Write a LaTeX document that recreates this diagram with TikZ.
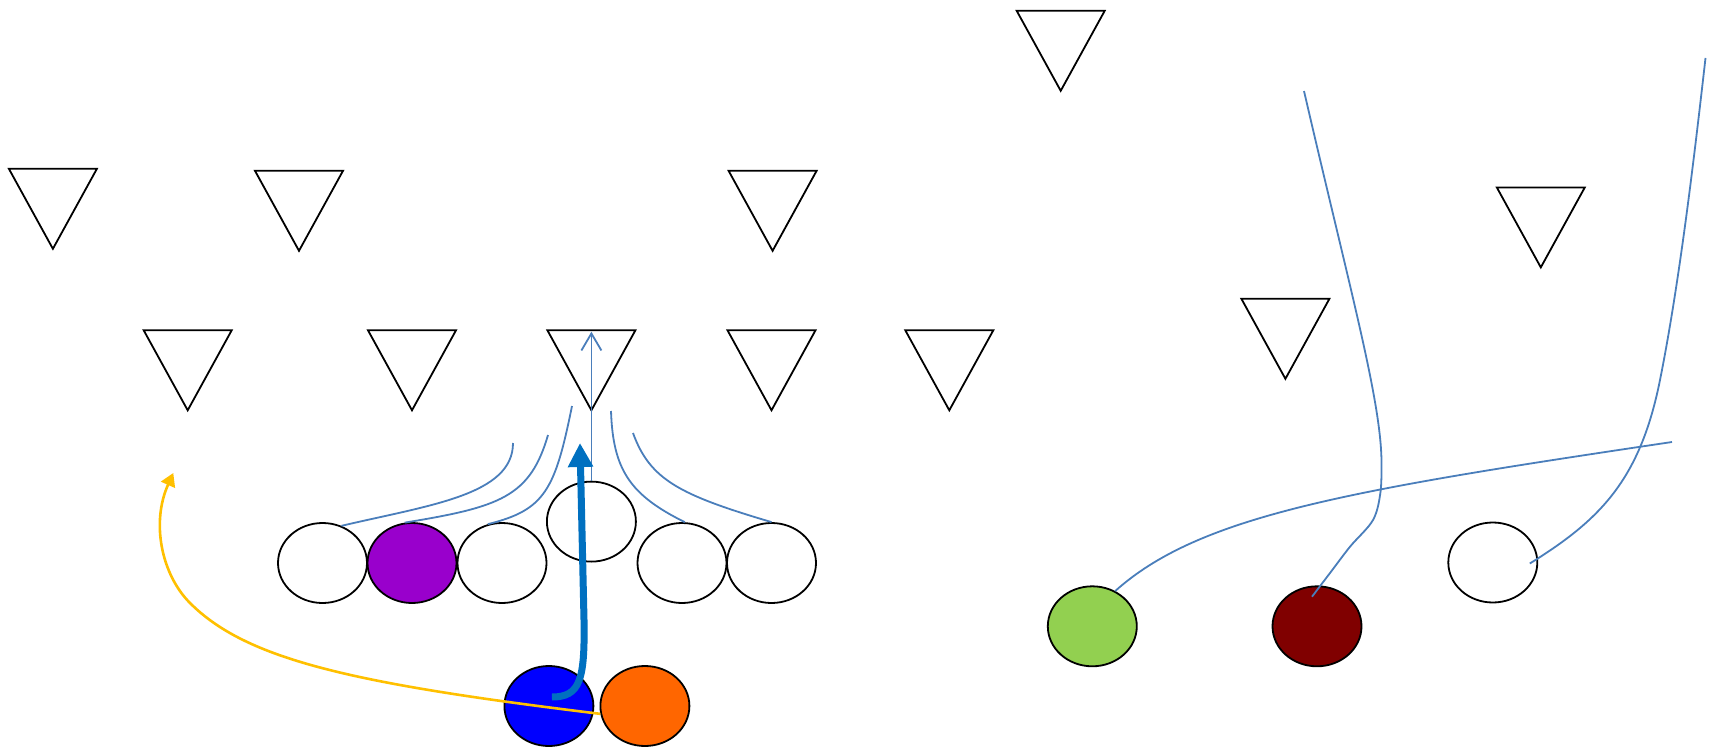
\documentclass[tikz,border=0pt]{standalone}
\usetikzlibrary{shapes.geometric,arrows.meta,calc}
\definecolor{routeblue}{HTML}{4A7EBB}
\definecolor{runblue}{HTML}{0070C0}
\definecolor{passyellow}{HTML}{FFC000}
\definecolor{pplayer}{HTML}{9900CC}
\definecolor{bplayer}{HTML}{0000FF}
\definecolor{oplayer}{HTML}{FF6600}
\definecolor{gplayer}{HTML}{92D050}
\definecolor{rplayer}{HTML}{800000}
\tikzset{
  player/.style={ellipse, draw=black, line width=1.8pt, minimum width=89pt, minimum height=80pt, inner sep=0pt},
  defender/.style={draw=black, line width=1.8pt, line join=miter},
  route/.style={draw=routeblue, line width=1.8pt},
}
\newcommand\deftri[3]{%
  \coordinate (#1) at (#2,#3);
  \draw[defender] ($(#1)+(-44,0)$) -- ($(#1)+(44,0)$) -- ($(#1)+(0,80)$) -- cycle;}
\begin{document}
\begin{tikzpicture}[x=1pt,y=-1pt]
\useasboundingbox (0,0) rectangle (1711,752);
% defenders
\deftri{d1}{52.9}{168.8}
\deftri{d2}{299}{170.8}
\deftri{d3}{772.6}{170.8}
\deftri{d4}{1060.7}{10.8}
\deftri{d5}{1540.8}{187.4}
\deftri{d6}{187.7}{330.3}
\deftri{d7}{412}{330.3}
\deftri{d8}{591.4}{330.3}
\deftri{d9}{771.5}{330.3}
\deftri{d10}{949.3}{330.3}
\deftri{d11}{1285.4}{298.8}
% offense
\node[player] (O1) at (322.5,563) {};
\node[player, fill=pplayer] (P) at (412,563) {};
\node[player] (O3) at (502,563) {};
\node[player] (C) at (591.4,521.6) {};
\node[player] (O5) at (682,563) {};
\node[player] (O6) at (771.5,563) {};
\node[player, fill=bplayer] (B) at (548.9,706) {};
\node[player, fill=oplayer] (Or) at (644.9,706) {};
\node[player, fill=gplayer] (G) at (1092.3,626.3) {};
\node[player, fill=rplayer] (R) at (1317,626.3) {};
\node[player] (W) at (1492.8,562.5) {};
% route end points
\coordinate (l1) at (513,443);
\coordinate (l2) at (548,435);
\coordinate (l3) at (572,406);
\coordinate (r1) at (611,411);
\coordinate (r2) at (633,433);
\coordinate (cTip) at (591.4,331.7);
\coordinate (qbTip) at (580,443);
\coordinate (yTip) at (173.3,473);
\coordinate (gEnd) at (1672,442);
\coordinate (rEnd) at (1304,91);
\coordinate (wEnd) at (1705.5,58);
% blocking routes
\draw[route] (O1.63) .. controls (430,505) and (513,495) .. (l1);
\draw[route] (P.100) .. controls (500,507) and (530,497) .. (l2);
\draw[route] (O3.110) .. controls (545,510) and (555,490) .. (l3);
\draw[route] (O5.86) .. controls (630,495) and (613,470) .. (r1);
\draw[route] (O6.north) .. controls (680,495) and (650,480) .. (r2);
\draw[route, -{Straight Barb[length=17pt,width=20pt]}] (C.north) -- (cTip);
% receiver routes
\draw[route] (G.57) .. controls (1200,515) and (1350,490) .. (gEnd);
\draw[route] plot[smooth, tension=0.55] coordinates {($(R.center)+(-5,-29.6)$) (1330,573) (1350,546.7)
  (1373,520) (1380.5,492) (1381.5,462)} .. controls (1381,400) and (1350,290) .. (rEnd);
\draw[route] ($(W.center)+(37,1)$) .. controls (1600,520) and (1640,480) .. (1660,380)
  .. controls (1680,280) and (1695,150) .. (wEnd);
% run and pitch
\draw[runblue, line width=7pt, -{Triangle[length=24pt,width=24pt]}]
  ($(B.center)+(3,-9)$) .. controls (580,697) and (585,680) .. (584,620) -- (qbTip);
\draw[passyellow, line width=2.6pt, -{Triangle[length=13pt,width=15pt]}]
  (Or.190) .. controls (351,683.5) and (246.6,659.6) .. (190,603)
  .. controls (161.7,574.7) and (150.75,523) .. (yTip);
\end{tikzpicture}
\end{document}
